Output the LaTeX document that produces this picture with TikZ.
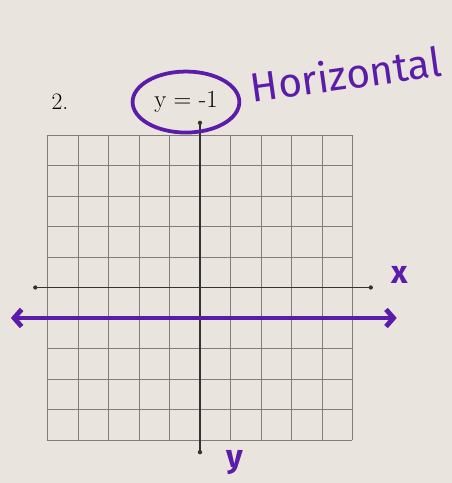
\documentclass[tikz,border=0pt]{standalone}
\usepackage{fontspec}
\usetikzlibrary{arrows.meta}
\newfontfamily\handfont{Fira Sans}
\definecolor{paperbeige}{RGB}{233, 228, 221}
\definecolor{markerpurple}{RGB}{92, 28, 170}
\definecolor{gridgray}{RGB}{130, 125, 120}

\begin{document}
\begin{tikzpicture}
        \fill[paperbeige] (-6.557, -6.41) rectangle (8.262, 9.426);
        \useasboundingbox (-6.557, -6.41) rectangle (8.262, 9.426);
        \draw[gridgray, line width = 0.6pt] (-5, -5) grid (5, 5);
        \coordinate (xl) at (-5.4, 0);
        \coordinate (xr) at (5.6, 0);
        \coordinate (yt) at (0, 5.4);
        \coordinate (yb) at (0, -5.4);
        \draw[black!80, line width = 1pt] (xl) -- (xr);
        \draw[black!80, line width = 1pt] (yt) -- (yb);
        \fill[black!80] (xl) circle (2pt) (xr) circle (2pt) (yt) circle (2pt) (yb) circle (2pt);
        \coordinate (ll) at (-6.2, -1);
        \coordinate (lr) at (6.45, -1);
        \draw[markerpurple, line width = 4.5pt, line cap = round,
              {Straight Barb[length=7pt, width=16pt]}-{Straight Barb[length=7pt, width=16pt]}] (ll) -- (lr);
        \node (num) at (-4.59, 6.08) {\fontsize{22}{24}\selectfont 2.};
        \node (eqn) at (-0.46, 6.08) {\fontsize{23}{26}\selectfont y = -1};
        \draw[markerpurple, line width = 3.5pt] (eqn) ellipse (1.75 and 1.0);
        \node[rotate = 8] (hor) at (4.78, 7.0) {\handfont\fontsize{38}{42}\selectfont\color{markerpurple} Horizontal};
        \node (xlab) at (6.56, 0.4) {\handfont\bfseries\fontsize{30}{32}\selectfont\color{markerpurple} x};
        \node (ylab) at (1.15, -5.75) {\handfont\bfseries\fontsize{30}{32}\selectfont\color{markerpurple} y};
     \end{tikzpicture}
\end{document}
